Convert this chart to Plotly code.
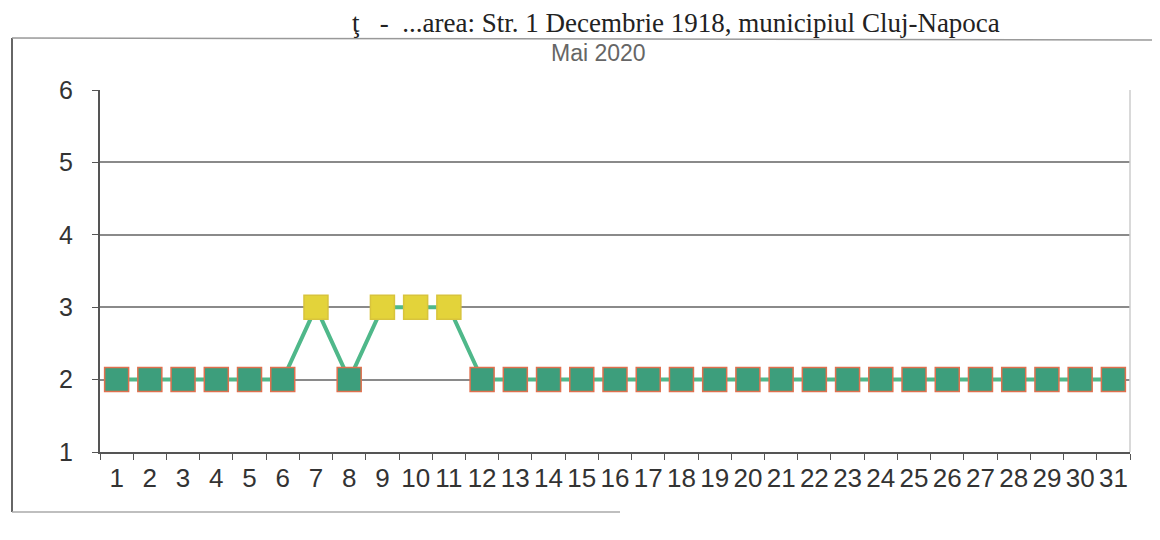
import plotly.graph_objects as go

days = [str(d) for d in range(1, 32)]
values = [2, 2, 2, 2, 2, 2, 3, 2, 3, 3, 3] + [2] * 20
y_ticks = [1, 2, 3, 4, 5, 6]
title_text = "Mai 2020"
header_text = "ţ   -  ...area: Str. 1 Decembrie 1918, municipiul Cluj-Napoca"

# page is offset by the 8px default body margin
OFF = 8
W, H = 1160 - OFF, 540 - OFF
L, R, T, B = 100, 1130, 90, 452  # page coordinates of plot area

def px(x):
    return (x - L) / (R - L)

def py(y):
    return (B - y) / (B - T)

fill = ["#e3d33a" if v >= 3 else "#3d9e7c" for v in values]
edge = ["#d8c43c" if v >= 3 else "#e0704e" for v in values]

fig = go.Figure()
fig.add_trace(go.Scatter(
    x=days, y=values, mode="lines+markers",
    line=dict(color="#4fb88a", width=4),
    marker=dict(symbol="square", size=24, color=fill,
                line=dict(color=edge, width=1.5)),
    showlegend=False, cliponaxis=False,
))

fig.update_layout(
    width=W, height=H,
    margin=dict(l=L - OFF, r=(W + OFF) - R, t=T - OFF, b=(H + OFF) - B),
    paper_bgcolor="white", plot_bgcolor="white",
    font=dict(family="Liberation Sans, Arial", color="#333"),
    xaxis=dict(
        type="category", tickson="boundaries", ticks="outside", ticklen=6,
        tickcolor="#555", showline=True, linecolor="#555", linewidth=2,
        showgrid=False, tickfont=dict(size=26, color="#333"), tickangle=0,
        range=[-0.5, 30.5], ticklabelstandoff=2,
    ),
    yaxis=dict(
        range=[1, 6], tickvals=y_ticks, ticks="outside", ticklen=6,
        tickcolor="#555", showline=True, linecolor="#555", linewidth=2,
        showgrid=True, gridcolor="#8a8a8a", gridwidth=1.5,
        tickfont=dict(size=25, color="#333"), ticklabelstandoff=14,
        zeroline=False,
    ),
    annotations=[
        dict(text=title_text, xref="paper", yref="paper", x=px(598), y=py(53),
             yanchor="middle", showarrow=False,
             font=dict(size=23, color="#666")),
        dict(text=header_text, xref="paper", yref="paper", x=px(1002), y=py(23),
             xanchor="right", yanchor="middle", showarrow=False,
             font=dict(size=27, family="Liberation Serif", color="#222")),
    ],
    shapes=[
        dict(type="line", xref="paper", yref="paper", x0=px(12), x1=px(12),
             y0=py(38), y1=py(512), line=dict(color="#333", width=1.5)),
        dict(type="line", xref="paper", yref="paper", x0=px(12), x1=px(1160),
             y0=py(38), y1=py(40), line=dict(color="#999", width=1.5)),
        dict(type="line", xref="paper", yref="paper", x0=px(12), x1=px(620),
             y0=py(512), y1=py(512), line=dict(color="#aaa", width=1.5)),
        dict(type="line", xref="paper", yref="paper", x0=1, x1=1,
             y0=0, y1=1, line=dict(color="#ccc", width=1.5)),
    ],
)

fig.write_html("out.html")
